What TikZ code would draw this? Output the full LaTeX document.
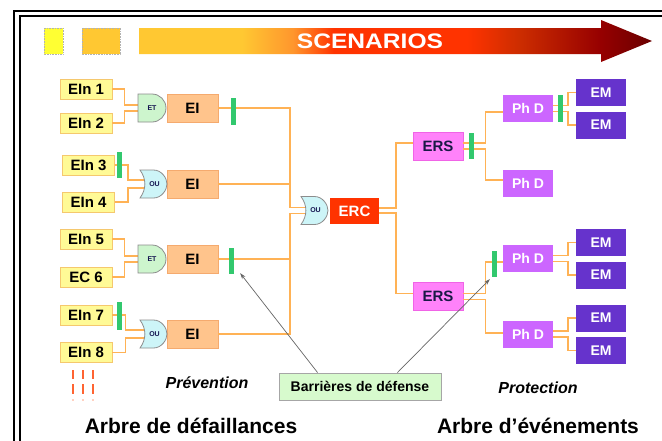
\documentclass[tikz,border=0pt]{standalone}
\usepackage{fontspec}
\setmainfont{Liberation Sans}
\usetikzlibrary{calc,arrows.meta}
\definecolor{einfill}{RGB}{255,250,150}
\definecolor{einbord}{RGB}{245,200,110}
\definecolor{eifill}{RGB}{255,196,140}
\definecolor{eibord}{RGB}{245,170,110}
\definecolor{connc}{RGB}{255,178,85}
\definecolor{barc}{RGB}{50,200,110}
\definecolor{etfill}{RGB}{205,245,205}
\definecolor{oufill}{RGB}{205,245,248}
\definecolor{gatebord}{RGB}{140,140,140}
\definecolor{gatetxtc}{RGB}{20,20,80}
\definecolor{ercfill}{RGB}{255,51,0}
\definecolor{ersfill}{RGB}{255,130,250}
\definecolor{ersbord}{RGB}{240,100,230}
\definecolor{navy}{RGB}{25,25,70}
\definecolor{phdfill}{RGB}{204,102,255}
\definecolor{emfill}{RGB}{102,51,204}
\definecolor{barrfill}{RGB}{215,250,205}
\definecolor{dashc}{RGB}{255,100,50}
\definecolor{sc1}{RGB}{255,200,50}
\definecolor{sc2}{RGB}{255,150,45}
\definecolor{sc3}{RGB}{255,51,0}
\definecolor{sc4}{RGB}{205,45,0}
\definecolor{sc5}{RGB}{150,0,0}
\definecolor{sc6}{RGB}{105,0,0}
\pgfdeclarehorizontalshading{scen}{100bp}{color(0bp)=(sc1); color(25bp)=(sc1); color(35bp)=(sc1); color(40bp)=(sc2); color(44bp)=(sc3); color(57bp)=(sc3); color(62bp)=(sc4); color(70bp)=(sc5); color(75bp)=(sc6); color(100bp)=(sc6)}
\tikzset{
  conn/.style={draw=connc, line width=1.6pt},
  basebox/.style={rectangle, inner sep=0pt, font=\fontsize{15}{15}\selectfont\bfseries},
  ein/.style={basebox, minimum width=52pt, minimum height=20pt, fill=einfill, draw=einbord, line width=0.8pt},
  ei/.style={basebox, minimum width=51pt, minimum height=28pt, fill=eifill, draw=eibord, line width=0.5pt},
  barre/.style={rectangle, inner sep=0pt, minimum width=5pt, fill=barc},
  gateline/.style={draw=gatebord, line width=0.8pt},
  gatetxt/.style={inner sep=0pt, minimum width=27pt, minimum height=28pt, font=\fontsize{7}{7}\selectfont\bfseries, text=gatetxtc},
  erc/.style={basebox, minimum width=49pt, minimum height=26pt, fill=ercfill, text=white},
  ers/.style={basebox, minimum width=50pt, minimum height=28pt, fill=ersfill, draw=ersbord, line width=0.6pt, text=navy},
  phd/.style={basebox, minimum width=50pt, minimum height=27pt, fill=phdfill, text=white, font=\fontsize{14}{14}\selectfont\bfseries},
  em/.style={basebox, minimum width=50pt, minimum height=27pt, fill=emfill, text=white, font=\fontsize{14}{14}\selectfont\bfseries},
  dashmark/.style={draw=dashc, line width=2.4pt},
  pointer/.style={draw=gray!80!black, line width=0.7pt, -{Stealth[length=6pt,width=4pt]}},
  title/.style={inner sep=0pt, anchor=base, font=\fontsize{21}{21}\selectfont\bfseries},
  sub/.style={inner sep=0pt, anchor=base, font=\fontsize{16}{16}\selectfont\bfseries\itshape},
}
\newcommand\gateET[3]{%
  \draw[gateline, fill=etfill] (#2-14,#3-14) -- (#2,#3-14) .. controls (#2+7.7,#3-14) and (#2+14,#3-7.7) .. (#2+14,#3) .. controls (#2+14,#3+7.7) and (#2+7.7,#3+14) .. (#2,#3+14) -- (#2-14,#3+14) -- cycle;
  \node[gatetxt] (#1) at (#2,#3) {ET};}
\newcommand\gateOU[3]{%
  \draw[gateline, fill=oufill] (#2-13.5,#3-14) -- (#2,#3-14) .. controls (#2+8,#3-14) and (#2+13.5,#3-6) .. (#2+13.5,#3) .. controls (#2+13.5,#3+6) and (#2+8,#3+14) .. (#2,#3+14) -- (#2-13.5,#3+14) .. controls (#2-7,#3+5) and (#2-7,#3-5) .. cycle;
  \node[gatetxt] (#1) at (#2+1,#3) {OU};}
\begin{document}
\begin{tikzpicture}[x=1pt,y=-1pt]
\useasboundingbox (0,0) rectangle (662,440);
\clip (0,0) rectangle (662,440);
\fill[white] (0,0) rectangle (662,440);
% frame
\draw[line width=2pt] (14,11) rectangle (720,520);
\draw[line width=2pt] (20,16) rectangle (720,520);
% scenario bar
\draw[fill={rgb,255:red,255;green,255;blue,51}, draw=gray!60, densely dotted, line width=0.6pt] (44,28) rectangle (63,54);
\draw[fill=sc1, draw=gray!60, densely dotted, line width=0.6pt] (82,28) rectangle (120,54);
\shade[shading=scen] (139,28) -- (601,28) -- (601,20) -- (652,41) -- (601,62) -- (601,54) -- (139,54) -- cycle;
\node[inner sep=0pt, anchor=base, text=white] (scen) at (370,48) {\scalebox{1.17}[1]{\fontsize{21}{21}\selectfont\bfseries SCENARIOS}};

% nodes (left)
\node[ein] (e1) at (86,89) {EIn 1};
\node[ein] (e2) at (86,123) {EIn 2};
\node[ein] (e3) at (88.5,165) {EIn 3};
\node[ein] (e4) at (88.5,202) {EIn 4};
\node[ein] (e5) at (86,239) {EIn 5};
\node[ein] (e6) at (86,277) {EC 6};
\node[ein] (e7) at (86,315) {EIn 7};
\node[ein] (e8) at (86,352.5) {EIn 8};
\node[ei] (i1) at (192.5,108) {EI};
\node[ei] (i2) at (192.5,184) {EI};
\node[ei] (i3) at (192.5,259) {EI};
\node[ei] (i4) at (192.5,334) {EI};
\node[erc] (c) at (354.5,211) {ERC};
\node[ers] (s1) at (438,146) {ERS};
\node[ers] (s2) at (438,296.5) {ERS};
\node[phd] (p1) at (528,108.5) {Ph D};
\node[phd] (p2) at (528,183.5) {Ph D};
\node[phd] (p3) at (528,258.5) {Ph D};
\node[phd] (p4) at (528,334) {Ph D};
\node[em] (m1) at (601,92.5) {EM};
\node[em] (m2) at (601,125) {EM};
\node[em] (m3) at (601,242.5) {EM};
\node[em] (m4) at (601,275) {EM};
\node[em] (m5) at (601,318) {EM};
\node[em] (m6) at (601,350.5) {EM};
\coordinate (g1w) at (138,108);
\coordinate (g2w) at (140,184);
\coordinate (g3w) at (138,259);
\coordinate (g4w) at (140,334);
\coordinate (g5w) at (301,210.5);
\coordinate (tr) at (290,210.5);

% connectors
\draw[conn] (e1.east) -- ++(12,0) |- ($(g1w)+(2,-3)$);
\draw[conn] (e2.east) -- ++(12,0) |- ($(g1w)+(2,3)$);
\draw[conn] (e3.east) -- ++(13,0) |- ($(g2w)+(6,-4)$);
\draw[conn] (e4.east) -- ++(13,0) |- ($(g2w)+(6,4)$);
\draw[conn] (e5.east) -- ++(12,0) |- ($(g3w)+(2,-3)$);
\draw[conn] (e6.east) -- ++(12,0) |- ($(g3w)+(2,3)$);
\draw[conn] (e7.east) -- ++(13,0) |- ($(g4w)+(6,-4)$);
\draw[conn] (e8.east) -- ++(13,0) |- ($(g4w)+(6,4)$);
\draw[conn] (i1.east) -| ($(tr)+(0,-3)$) -- ($(g5w)+(6,-3)$);
\draw[conn] (i2.east) -- (i2.east -| tr);
\draw[conn] (i4.east) -| ($(tr)+(0,3)$) -- ($(g5w)+(6,3)$);
\draw[conn] (i3.east) -- (i3.east -| tr);
\draw[conn] ($(c.east)+(0,-3)$) -- ++(17,0) |- ($(s1.west)+(0,-3)$);
\draw[conn] ($(c.east)+(0,2)$) -- ++(17,0) |- ($(s2.west)+(0,-3)$);
\draw[conn] ($(s1.east)+(0,-3)$) -- ++(22,0) |- ($(p1.west)+(0,3.5)$);
\draw[conn] ($(s1.east)+(0,3)$) -- ++(22,0) |- ($(p2.west)+(0,-3.5)$);
\draw[conn] ($(s2.east)+(0,-3)$) -- ++(22,0) |- ($(p3.west)+(0,3.5)$);
\draw[conn] ($(s2.east)+(0,3)$) -- ++(22,0) |- ($(p4.west)+(0,-1)$);
\draw[conn] ($(p1.east)+(0,-3)$) -- ++(15,0) |- (m1.west);
\draw[conn] ($(p1.east)+(0,3)$) -- ++(15,0) |- (m2.west);
\draw[conn] ($(p3.east)+(0,-3)$) -- ++(15,0) |- (m3.west);
\draw[conn] ($(p3.east)+(0,3)$) -- ++(15,0) |- (m4.west);
\draw[conn] ($(p4.east)+(0,-3)$) -- ++(15,0) |- (m5.west);
\draw[conn] ($(p4.east)+(0,3)$) -- ++(15,0) |- (m6.west);

% gates
\gateET{g1}{152}{108}
\gateOU{g2}{153.5}{184}
\gateET{g3}{152}{259}
\gateOU{g4}{153.5}{334}
\gateOU{g5}{314.5}{210.5}

% barriers
\node[barre, minimum height=27pt] (b1) at (233.5,111.5) {};
\node[barre, minimum height=26pt] (b2) at (119.5,165) {};
\node[barre, minimum height=26pt] (b3) at (231.5,261) {};
\node[barre, minimum height=28pt] (b4) at (119.5,316) {};
\node[barre, minimum height=26pt] (b5) at (471.5,146) {};
\node[barre, minimum height=27pt] (b6) at (560.5,108.5) {};
\node[barre, minimum height=26pt] (b7) at (494.5,264) {};

% dashes
\foreach \xx in {73,83,93} {
  \draw[dashmark] (\xx,370) -- (\xx,379);
  \draw[dashmark] (\xx,384) -- (\xx,394);
  \draw[draw=dashc!30, line width=2pt] (\xx,399) -- (\xx,401);
}

% labels
\node[sub] (prev) at (207,388) {Prévention};
\node[sub] (prot) at (538,393) {Protection};
\node[rectangle, draw=gray!70, fill=barrfill, line width=0.8pt, minimum width=162pt, minimum height=27pt, inner sep=0pt, font=\fontsize{14}{14}\selectfont\bfseries] (barr) at (360,386.5) {Barrières de défense};
\draw[pointer] ($(barr.north west)+(39,0)$) -- ($(b3.south east)+(6,-1)$);
\draw[pointer] ($(barr.north east)+(-44,0)$) -- ($(b7.south west)+(-2,2)$);
\node[title] (t1) at (191,433) {Arbre de défaillances};
\node[title] (t2) at (538,433) {Arbre d’événements};
\end{tikzpicture}
\end{document}
